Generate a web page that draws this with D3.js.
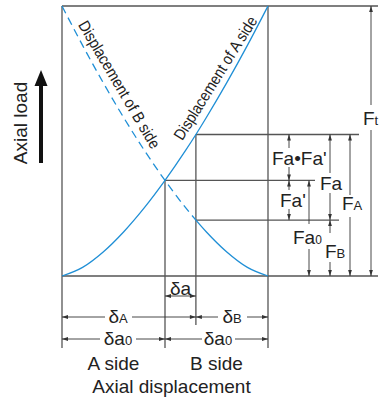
<!DOCTYPE html>
<html><head><meta charset="utf-8">
<script src="https://cdn.jsdelivr.net/npm/d3@7"></script>
<style>
html,body{margin:0;padding:0;background:#fff;}
svg{display:block;}
text{font-family:"Liberation Sans",Arial,sans-serif;fill:#222;}
</style>
</head><body>
<svg id="c" width="380" height="401"></svg>
<script>
// ---- data (load in % of Ft, displacement in arbitrary units) ----
const displacement = [0, 1, 2, 3, 4, 5, 6, 6.5, 7, 8, 9, 10];
const loadA = [0, 3.2, 8.9, 16.4, 25.3, 35.4, 46.5, 52.4, 58.6, 71.6, 85.4, 100];
const loadB = [100, 85.4, 71.6, 58.6, 46.5, 35.4, 25.3, 20.7, 16.4, 8.9, 3.2, 0];
const dCross = 5;      // δa0 (preload point)
const dOper = 6.5;     // A-side displacement under axial load
const FtVal = 100, Fa0Val = 35.4, FAVal = 52.4, FBVal = 20.7;
const sideLabels = ["A side", "B side"];
const xTitle = "Axial displacement";
const yTitle = "Axial load";
const curveLabels = ["Displacement of A side", "Displacement of B side"];

// ---- layout ----
const svg = d3.select("#c");
const x = d3.scaleLinear().domain([0, 10]).range([62, 268]);
const y = d3.scaleLinear().domain([0, 100]).range([276, 6]);
const BLUE = "#1f8fd6", FRAME = "#555", DIM = "#333";

function line(x1, y1, x2, y2, col, w) {
  svg.append("line").attr("x1", x1).attr("y1", y1).attr("x2", x2).attr("y2", y2)
    .attr("stroke", col || FRAME).attr("stroke-width", w || 1.3);
}
function head(px, py, dir) {
  const L = 6, W = 1.9;
  let p;
  if (dir === "up") p = [[px, py], [px - W, py + L], [px + W, py + L]];
  if (dir === "down") p = [[px, py], [px - W, py - L], [px + W, py - L]];
  if (dir === "left") p = [[px, py], [px + L, py - W], [px + L, py + W]];
  if (dir === "right") p = [[px, py], [px - L, py - W], [px - L, py + W]];
  svg.append("path").attr("d", "M" + p.map(d => d.join(",")).join("L") + "Z").attr("fill", DIM);
}
function vdim(px, y1, y2, g1, g2) {
  if (g1 == null) line(px, y1, px, y2, DIM, 0.9);
  else { line(px, y1, px, g1, DIM, 0.9); line(px, g2, px, y2, DIM, 0.9); }
  head(px, y1, "up"); head(px, y2, "down");
}
function hdim(py, x1, x2, g1, g2) {
  if (g1 == null) line(x1, py, x2, py, DIM, 0.9);
  else { line(x1, py, g1, py, DIM, 0.9); line(g2, py, x2, py, DIM, 0.9); }
  head(x1, py, "left"); head(x2, py, "right");
}
function label(px, py, parts, anchor) {
  const t = svg.append("text").attr("x", px).attr("y", py).attr("text-anchor", anchor || "start");
  parts.forEach(p => t.append("tspan").attr("font-size", p[1]).text(p[0]));
  return t;
}

// frame / leader lines
line(x(0), y(FtVal), 378, y(FtVal));
line(x(0), y(0), 378, y(0));
line(x(0), y(FtVal), x(0), 348);
line(x(10), y(FtVal), x(10), 348);
line(x(dCross), y(Fa0Val), x(dCross), 348);
line(x(dOper), y(FAVal), x(dOper), 325);
line(x(dOper), y(FAVal), 359, y(FAVal));
line(x(dCross), y(Fa0Val), 315, y(Fa0Val));
line(x(dOper), y(FBVal), 339, y(FBVal));

// curves
const pts = (arr) => displacement.map((d, i) => [d, arr[i]]);
const gen = d3.line().x(d => x(d[0])).y(d => y(d[1])).curve(d3.curveMonotoneX);
const bPts = pts(loadB);
const iOp = displacement.indexOf(dOper);
svg.append("path").attr("d", gen(pts(loadA))).attr("fill", "none").attr("stroke", BLUE).attr("stroke-width", 1.3);
svg.append("path").attr("d", gen(bPts.slice(0, iOp + 1))).attr("fill", "none").attr("stroke", BLUE)
  .attr("stroke-width", 1.3).attr("stroke-dasharray", "8,5");
svg.append("path").attr("d", gen(bPts.slice(iOp))).attr("fill", "none").attr("stroke", BLUE).attr("stroke-width", 1.3);

// rotated curve labels (condensed via horizontal scale)
svg.append("text").attr("transform", "translate(215.3,78) rotate(-58) scale(0.88,1)").attr("text-anchor", "middle")
  .attr("dy", "0.35em").attr("font-size", 16)
  .text(curveLabels[0]);
svg.append("text").attr("transform", "translate(119.5,84.5) rotate(59.5) scale(0.89,1)").attr("text-anchor", "middle")
  .attr("dy", "0.35em").attr("font-size", 16)
  .text(curveLabels[1]);

// vertical dimensions (right)
vdim(371, y(FtVal), y(0), 105, 130);
label(363, 125, [["F", 19], ["t", 13]]);
vdim(350, y(FAVal), y(0), 195, 217);
label(342, 210, [["F", 19], ["A", 13]]);
vdim(330, y(FAVal), y(FBVal), 173, 193);
label(320, 190, [["Fa", 19]]);
vdim(330, y(FBVal), y(0), 233, 262);
label(325, 258, [["F", 19], ["B", 13]]);
vdim(309, y(Fa0Val), y(0), 224, 249);
label(293, 244, [["Fa", 19], ["0", 12]]);
vdim(289, y(FAVal), y(Fa0Val), 148, 167);
label(272, 165, [["Fa•Fa'", 19]]);
vdim(289, y(Fa0Val), y(FBVal), 190, 209);
label(280, 207, [["Fa'", 19]]);

// horizontal dimensions (bottom)
hdim(296, x(dCross), x(dOper));
label(180.5, 295, [["δa", 19]], "middle");
hdim(317, x(0), x(dOper), 105, 132);
label(118, 323, [["δ", 19], ["A", 13]], "middle");
hdim(317, x(dOper), x(10), 218, 247);
label(232, 323, [["δ", 19], ["B", 13]], "middle");
hdim(339, x(0), x(dCross), 100, 136);
label(118, 345, [["δa", 19], ["0", 13]], "middle");
hdim(339, x(dCross), x(10), 202, 235);
label(218, 345, [["δa", 19], ["0", 13]], "middle");

// axis titles
label(113.5, 370, [[sideLabels[0], 19]], "middle");
label(216.5, 370, [[sideLabels[1], 19]], "middle");
label(171.5, 393, [[xTitle, 19]], "middle");
svg.append("text").attr("transform", "translate(27,123) rotate(-90)").attr("text-anchor", "middle")
  .attr("font-size", 19).text(yTitle);
// load arrow
svg.append("line").attr("x1", 41).attr("y1", 163).attr("x2", 41).attr("y2", 82)
  .attr("stroke", "#111").attr("stroke-width", 4);
svg.append("path").attr("d", "M41,70L34.5,86L47.5,86Z").attr("fill", "#111");
</script>
</body></html>
